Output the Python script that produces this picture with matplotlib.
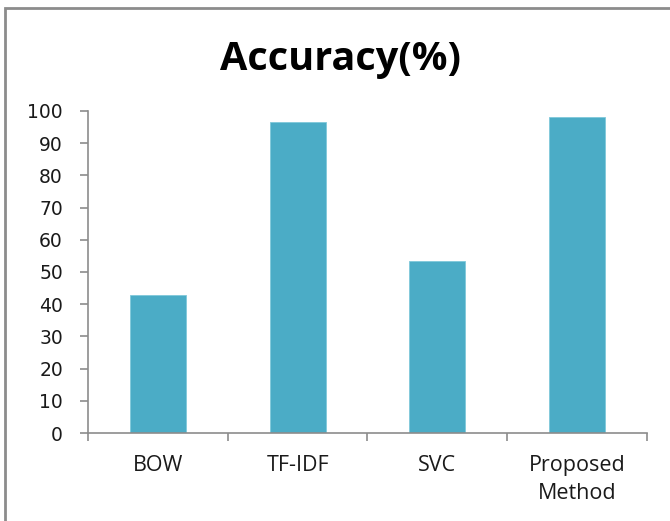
import matplotlib.pyplot as plt
from matplotlib.patches import Rectangle

# accuracy per method
metodos = ['BOW', 'TF-IDF', 'SVC', 'Proposed\nMethod']
precision = [43.0, 96.5, 53.3, 98.0]
ticks_y = list(range(0, 101, 10))

color_barra = '#4BACC6'
color_eje = '#8c8c8c'

fig = plt.figure(figsize=(6.70, 5.21), dpi=100)
ax = fig.add_axes([0.1313, 0.1689, 0.8344, 0.6181])

x = list(range(len(metodos)))
ax.bar(x, precision, width=0.4, color=color_barra, edgecolor='#7fc8da', linewidth=0.6)

ax.set_xlim(-0.5, len(metodos) - 0.5)
ax.set_ylim(0, 100)

# separators between categories instead of centred ticks
ax.set_xticks(x)
ax.set_xticklabels(metodos, fontsize=15.5, family='Open Sans', color='#1a1a1a', linespacing=1.45)
ax.set_xticks([i - 0.5 for i in range(len(metodos) + 1)], minor=True)
ax.tick_params(axis='x', which='major', length=0, pad=16)
ax.tick_params(axis='x', which='minor', length=6, width=1.2, color=color_eje, direction='out')

ax.set_yticks(ticks_y)
ax.set_yticklabels([str(t) for t in ticks_y], fontsize=13.5, family='DejaVu Sans', color='#1a1a1a')
ax.tick_params(axis='y', length=6, width=1.2, color=color_eje, direction='out', pad=12)

for lado in ['top', 'right']:
    ax.spines[lado].set_visible(False)
for lado in ['left', 'bottom']:
    ax.spines[lado].set_color(color_eje)
    ax.spines[lado].set_linewidth(1.2)

fig.text(0.508, 0.885, 'Accuracy(%)', ha='center', va='center',
         fontsize=28.5, fontweight='bold', family='Open Sans', color='black')

# grey frame around the chart area
fig.patches.append(Rectangle((5 / 670, -0.2), 1.2, 1.2 - 8 / 521, transform=fig.transFigure,
                             fill=False, edgecolor='#8c8c8c', linewidth=2))

fig.savefig('out.png', dpi=100)
